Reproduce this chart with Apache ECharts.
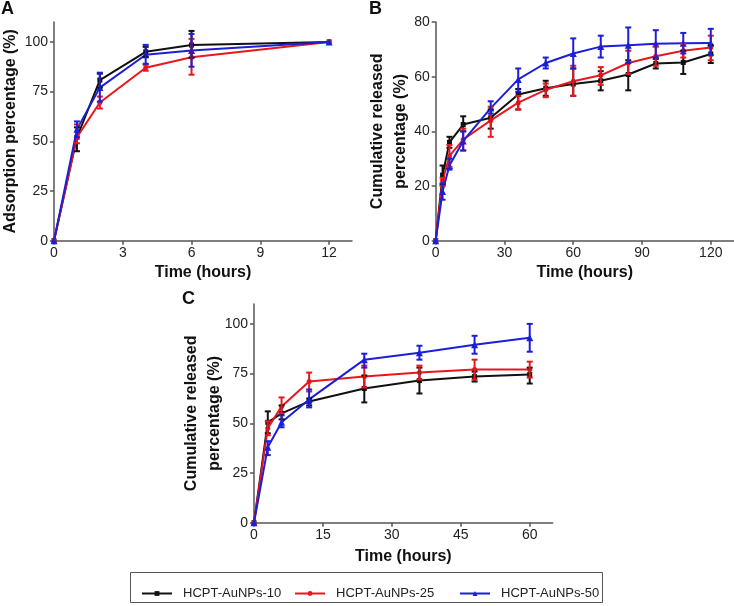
<!DOCTYPE html>
<html><head><meta charset="utf-8">
<script src="https://cdn.jsdelivr.net/npm/echarts@6/dist/echarts.min.js"></script>
<style>html,body{margin:0;padding:0;background:#fff}#c{width:734px;height:606px}</style>
</head><body><div id="c"></div>
<script>
// ---------- data ----------
const seriesNames = ['HCPT-AuNPs-10', 'HCPT-AuNPs-25', 'HCPT-AuNPs-50'];

// Panel A: adsorption
const timeA = [0, 1, 2, 4, 6, 12];
const a10 = [0, 52, 80.8, 95, 98.4, 100];
const a10Lo = [0, 45, 77, 92.5, 92, 100];
const a10Hi = [0, 57, 84, 97.5, 105.5, 100];
const a25 = [0, 52, 69.5, 87, 92.3, 100];
const a25Lo = [0, 49, 66.5, 85.5, 83.5, 100];
const a25Hi = [0, 58.5, 72.5, 88.5, 101.5, 100];
const a50 = [0, 56, 77, 93.5, 95.7, 100];
const a50Lo = [0, 52, 70, 89, 87.5, 100];
const a50Hi = [0, 60, 84.5, 98.5, 104, 100];

// Panel B: release
const timeB = [0, 3, 6, 12, 24, 36, 48, 60, 72, 84, 96, 108, 120];
const b10 = [0, 24, 36, 42.5, 45, 53.5, 55.8, 57.3, 58.5, 60.8, 64.8, 65.2, 68.3];
const b10Lo = [0, 20.5, 34, 40, 41, 48, 53, 53, 55, 55, 63, 61, 65];
const b10Hi = [0, 27.5, 38, 45.5, 48, 55.5, 58.5, 63, 62, 66, 66.5, 69.5, 71.5];
const b25 = [0, 22, 31, 37, 44, 50.5, 55.2, 58.3, 60.5, 65, 67.5, 69.5, 70.7];
const b25Lo = [0, 20, 27, 33, 38, 48, 52.5, 53, 57, 61, 64, 67, 66];
const b25Hi = [0, 23, 35, 41, 49, 53, 57.5, 64, 63.5, 69.5, 71, 72, 75];
const b50 = [0, 18, 27.5, 36.5, 48.5, 59, 65, 68.5, 71, 71.5, 72, 72.2, 72.3];
const b50Lo = [0, 15, 26, 33, 46.5, 54.5, 63, 63, 67, 65, 67, 68.5, 68];
const b50Hi = [0, 21, 30, 40, 51, 63, 67, 74, 75, 78, 77, 76, 77.5];

// Panel C: release
const timeC = [0, 3, 6, 12, 24, 36, 48, 60];
const c10 = [0, 50.5, 55, 61, 67.5, 71.5, 73.5, 74.5];
const c10Lo = [0, 45, 52, 59, 60.5, 65, 71, 70];
const c10Hi = [0, 56, 59, 62.5, 74, 78, 76, 78];
const c25 = [0, 47.5, 58.5, 71, 73.5, 75.5, 77, 77];
const c25Lo = [0, 44, 55, 66, 68, 72, 72, 73];
const c25Hi = [0, 51, 63, 75.5, 79, 79, 82, 81];
const c50 = [0, 38, 50.5, 62, 82, 85.5, 89.5, 93];
const c50Lo = [0, 34, 48, 58, 78, 82, 85, 86];
const c50Hi = [0, 41, 54, 67, 85, 89, 94, 100];

// tick labels
const ticksAx = [0, 3, 6, 9, 12];
const ticksAy = [0, 25, 50, 75, 100];
const ticksBx = [0, 30, 60, 90, 120];
const ticksBy = [0, 20, 40, 60, 80];
const ticksCx = [0, 15, 30, 45, 60];
const ticksCy = [0, 25, 50, 75, 100];

// ---------- styling ----------
const colors = ['#111111', '#e8161e', '#1c1ed8'];
const symbols = ['rect', 'circle', 'triangle'];
const FONT = "'Liberation Sans', Arial, sans-serif";
const axisCol = '#555';

function xAxisDef(gi, max, ticks, gap) {
  return {
    type: 'value', gridIndex: gi, min: 0, max: max,
    axisLine: {show: true, onZero: false, lineStyle: {color: axisCol, width: 1.5}},
    axisTick: {show: true, length: 4, customValues: ticks, lineStyle: {color: axisCol, width: 1.5}},
    axisLabel: {customValues: ticks, fontSize: 14, color: '#222', fontFamily: FONT, margin: 5},
    splitLine: {show: false},
    name: 'Time (hours)', nameLocation: 'middle', nameGap: gap, nameMoveOverlap: false,
    nameTextStyle: {fontSize: 16, fontWeight: 'bold', color: '#111', fontFamily: FONT}
  };
}
function yAxisDef(gi, max, ticks, name, gap) {
  return {
    type: 'value', gridIndex: gi, min: 0, max: max,
    axisLine: {show: true, onZero: false, lineStyle: {color: axisCol, width: 1.5}},
    axisTick: {show: true, length: 4, customValues: ticks, lineStyle: {color: axisCol, width: 1.5}},
    axisLabel: {customValues: ticks, fontSize: 14, color: '#222', fontFamily: FONT, margin: 6},
    splitLine: {show: false},
    name: name, nameLocation: 'middle', nameGap: gap, nameMoveOverlap: false,
    nameTextStyle: {fontSize: 16, fontWeight: 'bold', color: '#111', fontFamily: FONT, lineHeight: 23}
  };
}

function zip(xs, ys) { return xs.map((x, i) => [x, ys[i]]); }
function zipErr(xs, lo, hi) { return xs.map((x, i) => [x, lo[i], hi[i]]).filter(d => d[2] > d[1]); }

function renderErr(params, api) {
  const x = api.value(0), lo = api.value(1), hi = api.value(2);
  const p1 = api.coord([x, lo]), p2 = api.coord([x, hi]);
  const w = 3;
  const st = {stroke: api.visual('color'), lineWidth: 2};
  return {type: 'group', children: [
    {type: 'line', shape: {x1: p1[0], y1: p1[1], x2: p2[0], y2: p2[1]}, style: st},
    {type: 'line', shape: {x1: p1[0] - w, y1: p1[1], x2: p1[0] + w, y2: p1[1]}, style: st},
    {type: 'line', shape: {x1: p2[0] - w, y1: p2[1], x2: p2[0] + w, y2: p2[1]}, style: st}
  ]};
}

const panels = [
  {x: timeA, ys: [a10, a25, a50], lo: [a10Lo, a25Lo, a50Lo], hi: [a10Hi, a25Hi, a50Hi]},
  {x: timeB, ys: [b10, b25, b50], lo: [b10Lo, b25Lo, b50Lo], hi: [b10Hi, b25Hi, b50Hi]},
  {x: timeC, ys: [c10, c25, c50], lo: [c10Lo, c25Lo, c50Lo], hi: [c10Hi, c25Hi, c50Hi]}
];

const series = [];
panels.forEach((p, gi) => {
  for (let k = 0; k < 3; k++) {
    series.push({
      name: seriesNames[k], type: 'line', xAxisIndex: gi, yAxisIndex: gi,
      data: zip(p.x, p.ys[k]), symbol: symbols[k], symbolSize: k === 2 ? 7 : 5,
      showSymbol: true, smooth: false, animation: false,
      lineStyle: {color: colors[k], width: 2}, itemStyle: {color: colors[k]}, z: 2 + k
    });
  }
  for (let k = 0; k < 3; k++) {
    series.push({
      name: seriesNames[k], type: 'custom', xAxisIndex: gi, yAxisIndex: gi,
      data: zipErr(p.x, p.lo[k], p.hi[k]), renderItem: renderErr,
      itemStyle: {color: colors[k]}, animation: false, z: 6 + k,
      encode: {x: 0, y: [1, 2]}
    });
  }
});

function legendDef(name, left) {
  return {
    data: [name], left: left, top: 582, itemWidth: 30, itemHeight: 6,
    textStyle: {fontSize: 13, color: '#222', fontFamily: FONT, padding: [0, 0, 0, 6]},
    selectedMode: false
  };
}

const gridCommon = {outerBoundsMode: 'none', containLabel: false};
const option = {
  backgroundColor: '#fff',
  animation: false,
  grid: [
    Object.assign({left: 54, top: 22, width: 298, height: 218.7}, gridCommon),
    Object.assign({left: 435.7, top: 22, width: 298, height: 218.7}, gridCommon),
    Object.assign({left: 254, top: 304, width: 298.7, height: 218.7}, gridCommon)
  ],
  xAxis: [
    xAxisDef(0, 13, ticksAx, 24),
    xAxisDef(1, 130, ticksBx, 24),
    xAxisDef(2, 65, ticksCx, 26)
  ],
  yAxis: [
    yAxisDef(0, 110, ticksAy, 'Adsorption percentage (%)', 32),
    yAxisDef(1, 80, ticksBy, 'Cumulative released\npercentage (%)', 24),
    yAxisDef(2, 110, ticksCy, 'Cumulative released\npercentage (%)', 28)
  ],
  legend: [
    legendDef(seriesNames[0], 136),
    legendDef(seriesNames[1], 289),
    legendDef(seriesNames[2], 454)
  ],
  graphic: [
    {type: 'rect', shape: {x: 130.5, y: 572.5, width: 472, height: 30}, style: {fill: 'none', stroke: '#555', lineWidth: 1}},
    {type: 'text', x: 1, y: 0, style: {text: 'A', font: "bold 18px 'Liberation Sans', Arial", fill: '#111'}},
    {type: 'text', x: 369, y: 0, style: {text: 'B', font: "bold 18px 'Liberation Sans', Arial", fill: '#111'}},
    {type: 'text', x: 182, y: 290, style: {text: 'C', font: "bold 18px 'Liberation Sans', Arial", fill: '#111'}}
  ],
  series: series
};

const chart = echarts.init(document.getElementById('c'), null, {renderer: 'canvas'});
chart.setOption(option);
</script>
</body></html>
